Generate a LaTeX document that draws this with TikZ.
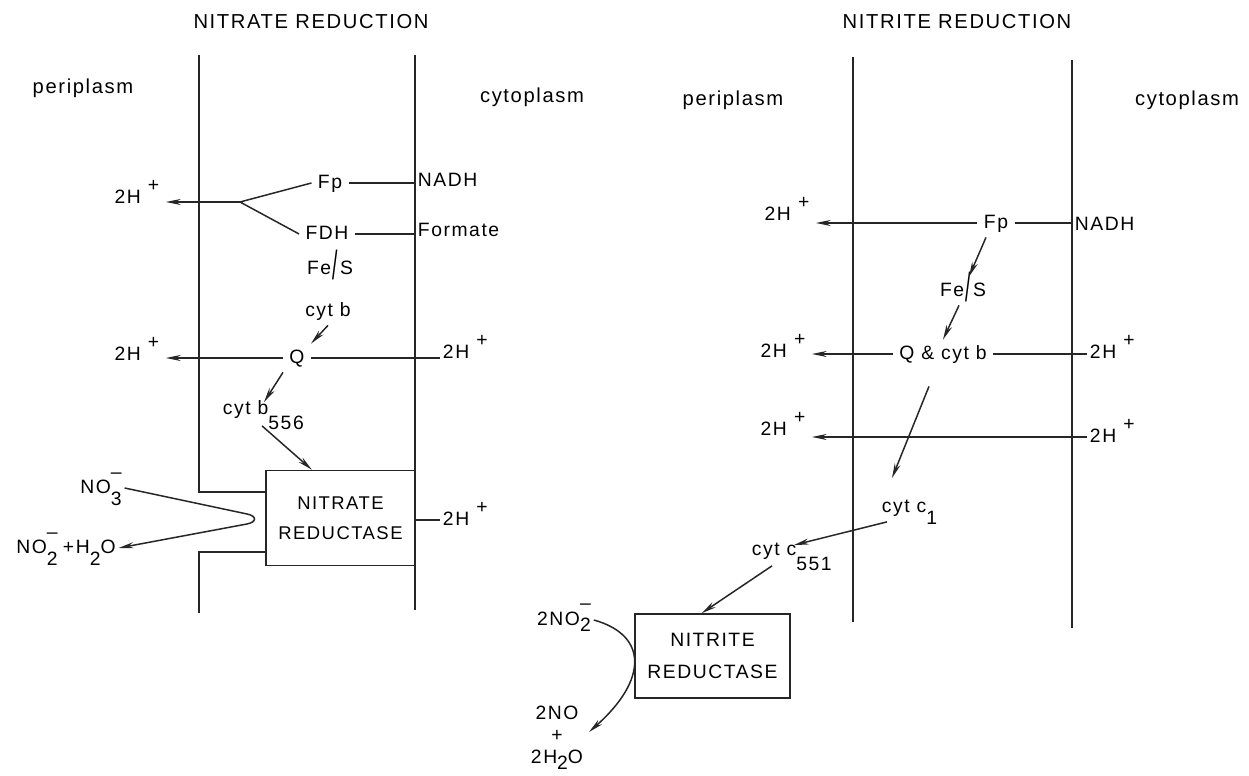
\documentclass[tikz,border=0pt]{standalone}
\usepackage{fontspec}
\setmainfont{Liberation Sans}[LetterSpace=8]
\usetikzlibrary{arrows.meta, calc}

\newcommand{\hiup}[2][1.2ex]{\raisebox{#1}{#2}}
\newcommand{\lodn}[2][1.2ex]{\raisebox{-#1}{#2}}
\newcommand{\twoh}{2H\hspace{4pt}\hiup[1.1ex]{+}}
\newcommand{\fes}{Fe\hspace{1pt}\raisebox{-0.55ex}{\scalebox{1}[2.1]{/}}\hspace{1pt}S}

\begin{document}
\begin{tikzpicture}[x=0.02cm, y=-0.02cm,
  line/.style={draw, line width=0.85pt, black!85},
  arr/.style={line, -{Stealth[length=8.5pt, width=3.4pt]}},
  mem/.style={line width=0.9pt, black!85},
  lbl/.style={inner sep=3.5pt, text height=1.4ex, text depth=0.3ex, font=\fontsize{11}{13}\selectfont},
  ttl/.style={font=\fontsize{11.5}{13}\selectfont},
  enz/.style={draw, line width=0.85pt, black!85, text=black, align=center}]
\useasboundingbox (0,0) rectangle (1249,776);

% nitrate reduction
\node[ttl] (tA) at (311,22) {NITRATE REDUCTION};
\node[ttl] (pA) at (83,88) {periplasm};
\node[ttl] (cA) at (532,97) {cytoplasm};
\draw[mem] (199,55) -- (199,492) -- (266,492);
\draw[mem] (266,552) -- (199,552) -- (199,613);
\draw[mem] (415,55) -- (415,610);
\node[enz, minimum width=2.98cm, minimum height=1.9cm, font=\fontsize{10.5}{12}\selectfont] (boxA) at (340.5,518) {NITRATE\\[5pt]REDUCTASE};
\node[lbl] (fpA) at (330,183) {Fp};
\node[lbl, inner sep=1.5pt, anchor=west] (nadhA) at (415,181) {NADH};
\node[lbl] (fdhA) at (327,234) {FDH};
\node[lbl, inner sep=1.5pt, anchor=west] (formA) at (415,231) {Formate};
\node[lbl] (fesA) at (330,269) {\fes};
\node[lbl] (cytbA) at (328,311) {cyt b};
\node[lbl] (qA) at (297,358) {Q};
\node[lbl, inner sep=1.5pt, anchor=west] (cytbbA) at (220,409) {cyt b\lodn[1.5ex]{556}};
\node[lbl] (hA1) at (137,198) {\twoh};
\node[lbl] (hA2) at (137,355) {\twoh};
\node[lbl, inner sep=1.5pt, anchor=west] (hA3) at (440,353) {\twoh};
\node[lbl, inner sep=1.5pt, anchor=west] (hA4) at (440,520) {\twoh};
\node[lbl, inner sep=1.5pt] (no3A) at (101,488) {NO\rlap{\hiup[1.4ex]{–}}\lodn{3}};
\node[lbl, inner sep=1.5pt] (no2A) at (66,548) {NO\rlap{\hiup[1.4ex]{–}}\lodn{2}\hspace{3pt}+\hspace{1pt}H\lodn{2}O};
\coordinate (jA) at (240,202);
\coordinate (tipA) at (257,519);

\draw[line] (fpA.west) -- (jA) -- (fdhA.west);
\draw[arr] (jA) -- (jA -| hA1.east);
\draw[line] (fpA.east) -- (fpA.east -| nadhA.west);
\draw[line] (fdhA.east) -- (fdhA.east -| formA.west);
\draw[arr] (cytbA.south) -- (qA.north east);
\draw[arr] (qA.west) -- (qA.west -| hA2.east);
\draw[line] (qA.east) -- (qA.east -| hA3.west);
\draw[arr] (qA.south west) -- ($(cytbbA.north west)+(44,4)$);
\draw[arr] ($(cytbbA.south west)+(42,6)$) -- ($(boxA.north west)!0.31!(boxA.north east)$);
\draw[line] (boxA.east |- hA4.west) -- (hA4.west);
\draw[arr] (no3A.east) -- ($(tipA)+(-10,-5)$) .. controls ($(tipA)+(0,-3)$) and ($(tipA)+(0,3)$) .. ($(tipA)+(-10,5)$) -- (no2A.east);

% nitrite reduction
\node[ttl] (tB) at (957,22) {NITRITE REDUCTION};
\node[ttl] (pB) at (733,100) {periplasm};
\node[ttl] (cB) at (1187,100) {cytoplasm};
\draw[mem] (853,57) -- (853,622);
\draw[mem] (1072,60) -- (1072,628);
\node[enz, minimum width=3.1cm, minimum height=1.68cm, font=\fontsize{11}{12}\selectfont] (boxB) at (712.5,656) {NITRITE\\[6pt]REDUCTASE};
\node[lbl] (fpB) at (996,223) {Fp};
\node[lbl, inner sep=1.5pt, anchor=west] (nadhB) at (1072,225) {NADH};
\node[lbl] (hB1) at (787,215) {\twoh};
\node[lbl] (fesB) at (963,291) {\fes};
\node[lbl] (qB) at (943,354) {Q \& cyt b};
\node[lbl] (hB2) at (783,352) {\twoh};
\node[lbl, inner sep=1.5pt, anchor=west] (hB3) at (1087,353) {\twoh};
\node[lbl] (hB4) at (783,430) {\twoh};
\node[lbl, inner sep=1.5pt, anchor=west] (hB5) at (1087,437) {\twoh};
\node[lbl, inner sep=1.5pt, anchor=west] (cytcaB) at (879,507) {cyt c\lodn{1}};
\node[lbl, inner sep=1.5pt, anchor=west] (cytcbB) at (749,550) {cyt c\lodn[1.5ex]{551}};
\node[lbl, inner sep=1.5pt] (no2B) at (564,620) {2NO\rlap{\hiup[1.5ex]{–}}\lodn[0.6ex]{2}};
\node[align=center, inner sep=1.5pt, font=\fontsize{11}{12.5}\selectfont] (noB) at (557,738) {2NO\\+\\2H\lodn[0.6ex]{2}O};

\draw[arr] (fpB.west) -- (fpB.west -| hB1.east);
\draw[line] (fpB.east) -- (fpB.east -| nadhB.west);
\draw[arr] ($(fpB.south)+(-10,0)$) -- ($(fesB.north)+(6,0)$);
\draw[arr] ($(fesB.south)+(-4,0)$) -- (qB.north);
\draw[arr] (qB.west) -- (qB.west -| hB2.east);
\draw[line] (qB.east) -- (qB.east -| hB3.west);
\draw[arr] (hB5.west) -- (hB5.west -| hB4.east);
\draw[arr] ($(qB.south)+(-14,18)$) -- ($(cytcaB.north west)+(13,-18)$);
\draw[arr] ($(cytcaB.south west)+(8,4)$) -- ($(cytcbB.north)+(2,6)$);
\draw[arr] ($(cytcbB.south west)+(23,5)$) -- ($(boxB.north west)!0.43!(boxB.north east)$);
\draw[arr] (no2B.east) .. controls (648,635) and (648,680) .. ($(noB.east)+(3,-6)$);
\end{tikzpicture}
\end{document}
